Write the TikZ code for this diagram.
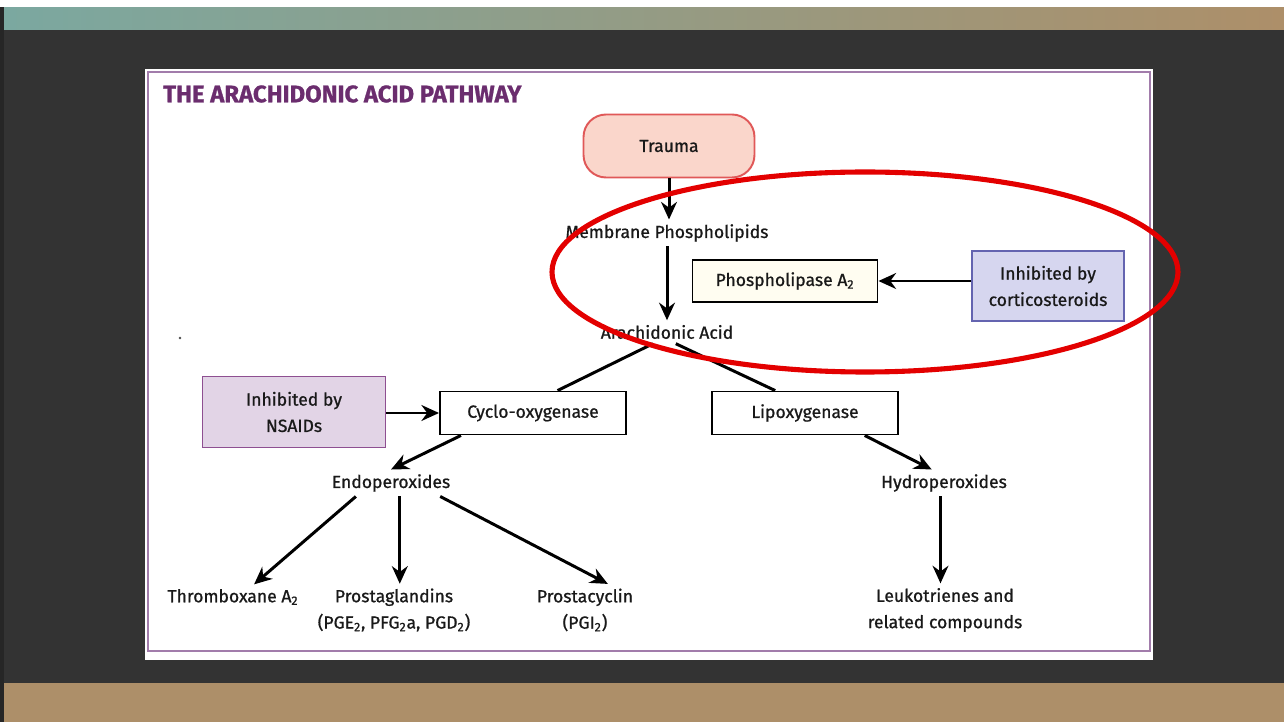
\documentclass[tikz,border=0pt]{standalone}
\usepackage{fontspec}
\setmainfont{Fira Sans}[FakeBold=0.9]
\usetikzlibrary{arrows.meta}
\usetikzlibrary{shapes}
\definecolor{slide}{HTML}{333333}
\definecolor{sand}{HTML}{AD8F69}
\definecolor{teal}{HTML}{7BA8A0}
\definecolor{frame}{HTML}{A27CAB}
\definecolor{plum}{HTML}{6B2D6E}
\definecolor{traumafill}{HTML}{FAD6CB}
\definecolor{traumaline}{HTML}{E05858}
\definecolor{cream}{HTML}{FFFDF1}
\definecolor{steroidfill}{HTML}{D6D6EF}
\definecolor{steroidline}{HTML}{6464B0}
\definecolor{nsaidfill}{HTML}{E2D4E6}
\definecolor{nsaidline}{HTML}{8E4F91}
\definecolor{marker}{HTML}{E30000}
\tikzstyle{trigger}=[rectangle,rounded corners=0.45cm,draw=traumaline,fill=traumafill,line width=1.1pt,minimum width=3.42cm,minimum height=1.26cm]
\tikzstyle{enzyme}=[rectangle,draw=black,fill=white,line width=1.1pt,minimum width=3.72cm,minimum height=0.86cm,inner sep=0mm]
\tikzstyle{blocker}=[rectangle,line width=1.1pt,minimum height=1.42cm,inner sep=0mm,align=center]
\tikzstyle{product}=[inner sep=2.5pt,align=center]
\tikzstyle{arrow}=[-{Stealth[length=10pt,width=9pt]},line width=1.7pt]
\tikzstyle{link}=[line width=1.7pt]
\tikzset{every node/.style={font=\fontsize{10}{15}\selectfont,text=black!90}}

\begin{document}
\begin{tikzpicture}[x=0.02cm,y=-0.02cm]
    \useasboundingbox (0,0) rectangle (1284,722);
    % slide background
    \fill[white] (0,0) rectangle (1284,722);
    \shade[left color=teal,right color=sand] (4,8) rectangle (1284,30);
    \fill[slide] (4,30) rectangle (1284,683);
    \fill[sand] (4,683) rectangle (1284,722);
    \fill[black!85] (0,7) rectangle (4,722);
    % figure panel
    \fill[white] (145,69) rectangle (1153,660);
    \draw[frame,line width=1.2pt] (148,72) rectangle (1150,651);
    \node[anchor=west,font=\fontsize{13.6}{15}\selectfont\bfseries,text=plum] at (157,94) (title) {THE ARACHIDONIC ACID PATHWAY};
    \fill[black!70] (180,338) circle (1.3);

    \node[trigger] at (669,146) (trauma) {Trauma};
    \node[product] at (667,233) (mem) {Membrane Phospholipids};
    \node[product] at (667,332) (aa) {Arachidonic Acid};
    \node[enzyme,fill=cream,minimum width=3.7cm,minimum height=0.84cm] at (785,281) (pla) {Phospholipase A\textsubscript{2}};
    \node[blocker,draw=steroidline,fill=steroidfill,minimum width=3.04cm,minimum height=1.4cm] at (1048,286) (cort) {Inhibited by\\corticosteroids};
    \draw[arrow] (trauma.south) -- (trauma.south |- mem.north);
    \draw[arrow] (mem.south) -- (aa.north);
    \draw[arrow] (cort.west |- pla.east) -- (pla.east);

    \node[enzyme] at (533,413) (cox) {Cyclo-oxygenase};
    \node[enzyme] at (805,413) (lox) {Lipoxygenase};
    \node[blocker,draw=nsaidline,fill=nsaidfill,minimum width=3.66cm] at (294,412) (nsaid) {Inhibited by\\NSAIDs};
    \draw[link] ([xshift=-8pt]aa.south) -- ([xshift=14pt]cox.north);
    \draw[link] ([xshift=5pt]aa.south) -- ([xshift=-17pt]lox.north);
    \draw[arrow] (nsaid.east |- cox.west) -- (cox.west);

    \node[product] at (391,483) (endo) {Endoperoxides};
    \node[product] at (944,483) (hydro) {Hydroperoxides};
    \draw[arrow] ([xshift=-41pt]cox.south) -- (endo.north);
    \draw[arrow] ([xshift=34pt]lox.south) -- ([xshift=-7pt]hydro.north);

    \node[product] at (233,597) (thromb) {Thromboxane A\textsubscript{2}};
    \node[product] at (394,610) (pg) {Prostaglandins\\(PGE\textsubscript{2}, PFG\textsubscript{2}a, PGD\textsubscript{2})};
    \node[product] at (585,610) (pgi) {Prostacyclin\\(PGI\textsubscript{2})};
    \node[product] at (945,610) (leuk) {Leukotrienes and\\related compounds};
    \draw[arrow] ([xshift=-20pt]endo.south) -- ([xshift=12pt]thromb.north);
    \draw[arrow] ([xshift=5pt]endo.south) -- ([xshift=5pt]endo.south |- pg.north);
    \draw[arrow] ([xshift=28pt]endo.south) -- ([xshift=13pt]pgi.north);
    \draw[arrow] ([xshift=-2pt]hydro.south) -- ([xshift=-2pt]hydro.south |- leuk.north);

    % highlight
    \draw[marker,line width=2.9pt] (865,272) ellipse [x radius=313,y radius=100];
\end{tikzpicture}
\end{document}
